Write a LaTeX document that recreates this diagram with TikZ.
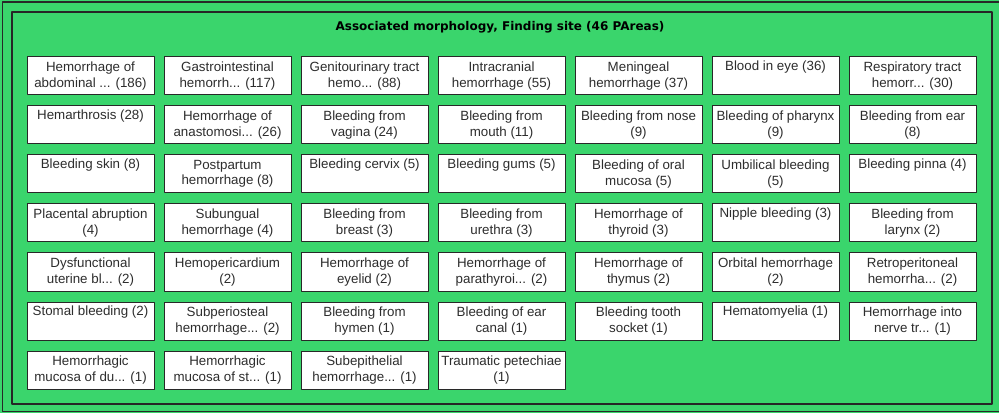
\documentclass[tikz,border=0pt]{standalone}
\usepackage{fontspec}
\setmainfont{Liberation Sans}
\newfontfamily\titlefont{DejaVu Sans}
\usepackage{tikz}
\usetikzlibrary{positioning}

\definecolor{areagreen}{RGB}{58,213,108}
\definecolor{areaframe}{RGB}{40,40,40}
\definecolor{areatext}{RGB}{45,45,45}

\begin{document}
\begin{tikzpicture}[
  x=0.75pt, y=-0.75pt,
  line cap=round, line join=round,
  font=\fontsize{10}{11.6}\selectfont,
  parea/.style={
    rectangle, draw=areaframe, fill=white,
    line width=0.75pt,
    minimum width=95.25pt, minimum height=28.5pt,
    align=center, inner sep=0pt,
    text=areatext
  },
  areabox/.style={draw=areaframe, line width=1.1pt},
  areatitle/.style={font=\titlefont\bfseries\fontsize{9}{11}\selectfont, text=black}
]

% =========================================================================
% Background and frames
% =========================================================================
\useasboundingbox (0,0) rectangle (999,413);
\fill[areagreen] (0,0) rectangle (999,413);
\draw[areabox] (2.5,2) rectangle (1003,411.5);
\draw[draw=black!85, line width=0.8pt] (12,12) rectangle (992,404);

% Title
\node[areatitle] (title) at (500,27.5) {Associated morphology, Finding site (46 PAreas)};

% =========================================================================
% PAreas (7 columns, 137 px apart; rows 49 px apart)
% =========================================================================
% Row 1
\node[parea] (pa11) at (90.5,76) {Hemorrhage of\\abdominal ... (186)};
\node[parea] (pa12) at (227.5,76) {Gastrointestinal\\hemorrh... (117)};
\node[parea] (pa13) at (364.5,76) {Genitourinary tract\\hemo... (88)};
\node[parea] (pa14) at (501.5,76) {Intracranial\\hemorrhage (55)};
\node[parea] (pa15) at (638.5,76) {Meningeal\\hemorrhage (37)};
\node[parea] (pa16) at (775.5,76) {Blood in eye (36)\\\strut};
\node[parea] (pa17) at (912.5,76) {Respiratory tract\\hemorr... (30)};

% Row 2
\node[parea] (pa21) at (90.5,125) {Hemarthrosis (28)\\\strut};
\node[parea] (pa22) at (227.5,125) {Hemorrhage of\\anastomosi... (26)};
\node[parea] (pa23) at (364.5,125) {Bleeding from\\vagina (24)};
\node[parea] (pa24) at (501.5,125) {Bleeding from\\mouth (11)};
\node[parea] (pa25) at (638.5,125) {Bleeding from nose\\(9)};
\node[parea] (pa26) at (775.5,125) {Bleeding of pharynx\\(9)};
\node[parea] (pa27) at (912.5,125) {Bleeding from ear\\(8)};

% Row 3
\node[parea] (pa31) at (90.5,174) {Bleeding skin (8)\\\strut};
\node[parea] (pa32) at (227.5,174) {Postpartum\\hemorrhage (8)};
\node[parea] (pa33) at (364.5,174) {Bleeding cervix (5)\\\strut};
\node[parea] (pa34) at (501.5,174) {Bleeding gums (5)\\\strut};
\node[parea] (pa35) at (638.5,174) {Bleeding of oral\\mucosa (5)};
\node[parea] (pa36) at (775.5,174) {Umbilical bleeding\\(5)};
\node[parea] (pa37) at (912.5,174) {Bleeding pinna (4)\\\strut};

% Row 4
\node[parea] (pa41) at (90.5,223) {Placental abruption\\(4)};
\node[parea] (pa42) at (227.5,223) {Subungual\\hemorrhage (4)};
\node[parea] (pa43) at (364.5,223) {Bleeding from\\breast (3)};
\node[parea] (pa44) at (501.5,223) {Bleeding from\\urethra (3)};
\node[parea] (pa45) at (638.5,223) {Hemorrhage of\\thyroid (3)};
\node[parea] (pa46) at (775.5,223) {Nipple bleeding (3)\\\strut};
\node[parea] (pa47) at (912.5,223) {Bleeding from\\larynx (2)};

% Row 5
\node[parea] (pa51) at (90.5,272) {Dysfunctional\\uterine bl... (2)};
\node[parea] (pa52) at (227.5,272) {Hemopericardium\\(2)};
\node[parea] (pa53) at (364.5,272) {Hemorrhage of\\eyelid (2)};
\node[parea] (pa54) at (501.5,272) {Hemorrhage of\\parathyroi... (2)};
\node[parea] (pa55) at (638.5,272) {Hemorrhage of\\thymus (2)};
\node[parea] (pa56) at (775.5,272) {Orbital hemorrhage\\(2)};
\node[parea] (pa57) at (912.5,272) {Retroperitoneal\\hemorrha... (2)};

% Row 6
\node[parea] (pa61) at (90.5,321) {Stomal bleeding (2)\\\strut};
\node[parea] (pa62) at (227.5,321) {Subperiosteal\\hemorrhage... (2)};
\node[parea] (pa63) at (364.5,321) {Bleeding from\\hymen (1)};
\node[parea] (pa64) at (501.5,321) {Bleeding of ear\\canal (1)};
\node[parea] (pa65) at (638.5,321) {Bleeding tooth\\socket (1)};
\node[parea] (pa66) at (775.5,321) {Hematomyelia (1)\\\strut};
\node[parea] (pa67) at (912.5,321) {Hemorrhage into\\nerve tr... (1)};

% Row 7
\node[parea] (pa71) at (90.5,370) {Hemorrhagic\\mucosa of du... (1)};
\node[parea] (pa72) at (227.5,370) {Hemorrhagic\\mucosa of st... (1)};
\node[parea] (pa73) at (364.5,370) {Subepithelial\\hemorrhage... (1)};
\node[parea] (pa74) at (501.5,370) {Traumatic petechiae\\(1)};

\end{tikzpicture}
\end{document}
